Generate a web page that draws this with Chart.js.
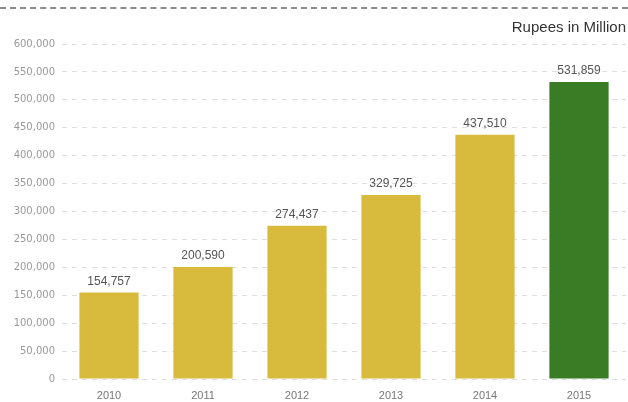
<!DOCTYPE html>
<html>
<head>
<meta charset="utf-8">
<script src="https://cdn.jsdelivr.net/npm/chart.js@4"></script>
<style>
  html, body { margin: 0; padding: 0; background: #fff; }
  #wrap { position: relative; width: 628px; height: 402px; }
  #rule { position: absolute; left: 0; right: 0; top: 7px; border-top: 2px dashed #8c8c8c; }
</style>
</head>
<body>
<div id="wrap">
  <div id="rule"></div>
  <canvas id="revenueChart" width="628" height="402"></canvas>
</div>
<script>
const years = ['2010', '2011', '2012', '2013', '2014', '2015'];
const revenue = [154757, 200590, 274437, 329725, 437510, 531859];
const barColors = ['#d8bb3d', '#d8bb3d', '#d8bb3d', '#d8bb3d', '#d8bb3d', '#3a7b25'];
const unitLabel = 'Rupees in Million';

const fontFamily = '"Liberation Sans", Arial, sans-serif';

function fmt(n) {
    return n.toLocaleString('en-US');
}

// write each bar's value just above it
const valueLabels = {
    id: 'valueLabels',
    afterDatasetsDraw(chart) {
        const c = chart.ctx;
        const meta = chart.getDatasetMeta(0);
        c.save();
        c.font = '12px ' + fontFamily;
        c.fillStyle = '#555';
        c.textAlign = 'center';
        c.textBaseline = 'bottom';
        meta.data.forEach(function (bar, i) {
            c.fillText(fmt(revenue[i]), bar.x, bar.y - 5);
        });
        c.restore();
    }
};

const ctx = document.getElementById('revenueChart');
const revenueChart = new Chart(ctx, {
    type: 'bar',
    data: {
        labels: years,
        datasets: [{
            data: revenue,
            backgroundColor: barColors,
            borderWidth: 0,
            categoryPercentage: 1,
            barPercentage: 0.63
        }]
    },
    options: {
        responsive: false,
        animation: false,
        layout: { padding: { top: 19, right: 2, left: 0, bottom: 0 } },
        plugins: {
            legend: { display: false },
            tooltip: { enabled: false },
            title: {
                display: true,
                text: unitLabel,
                align: 'end',
                color: '#333',
                font: { family: fontFamily, size: 15, weight: 'normal' },
                padding: { top: 0, bottom: 7 }
            }
        },
        scales: {
            x: {
                grid: { display: false },
                border: { display: false },
                ticks: { color: '#777', font: { family: fontFamily, size: 11 }, padding: 2 },
                afterFit: function (axis) { axis.height = 23; }
            },
            y: {
                min: 0,
                max: 600000,
                ticks: {
                    stepSize: 50000,
                    color: '#999',
                    font: { family: 'DejaVu Sans', size: 10 },
                    padding: 7,
                    callback: function (v) { return fmt(v); }
                },
                grid: { color: '#dedede', drawTicks: false },
                border: { display: false, dash: [5, 5] },
                afterFit: function (axis) { axis.width = 62; }
            }
        }
    },
    plugins: [valueLabels]
});
</script>
</body>
</html>
